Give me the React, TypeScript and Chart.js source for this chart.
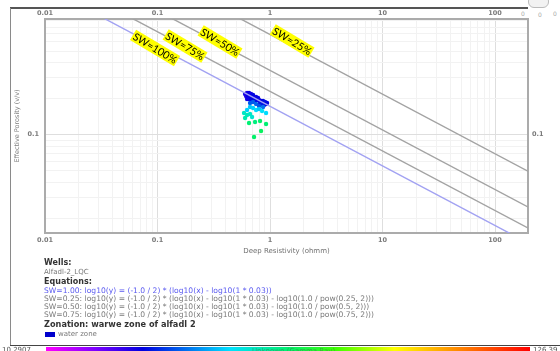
import React, { useEffect, useRef } from 'react';
import { Chart, registerables } from 'chart.js';
Chart.register(...registerables);

// ---- data ----
const resistivity = [
  0.600, 0.6245, 0.6505, 0.6777, 0.7061, 0.6119, 0.6374, 0.6640, 0.6918, 0.7206, 0.7508, 0.7822,
  0.7356, 0.7663, 0.7983, 0.8318, 0.8665, 0.9027, 0.9404, 0.8149, 0.8490, 0.8844, 0.9214, 0.6505,
  0.6777, 0.6245,
  0.7061, 0.7508, 0.7983, 0.8665, 0.6640,
  0.6640, 0.7061, 0.7508, 0.7983, 0.6245, 0.8490, 0.9214,
  0.5873, 0.6245, 0.6640, 0.6000, 0.6918,
  0.6505, 0.7356, 0.8149, 0.9214, 0.8318, 0.7206,
];
const porosity = [
  0.2197, 0.2240, 0.2240, 0.2197, 0.2155, 0.2113, 0.2113, 0.2073, 0.2073, 0.2033, 0.2073, 0.2033,
  0.1957, 0.1957, 0.1957, 0.1919, 0.1919, 0.1883, 0.1846, 0.1846, 0.1811, 0.1776, 0.1811, 0.1995,
  0.1957, 0.1995,
  0.1883, 0.1811, 0.1742, 0.1709, 0.1846,
  0.1709, 0.1677, 0.1613, 0.1644, 0.1613, 0.1582, 0.1522,
  0.1522, 0.1464, 0.1493, 0.1382, 0.1409,
  0.1255, 0.1279, 0.1304, 0.1231, 0.1075, 0.0957,
];
const gammaRay = [
  32, 31, 33, 32, 34, 31, 33, 32, 34, 33, 32, 34,
  33, 34, 32, 33, 34, 35, 34, 35, 36, 35, 34, 33,
  34, 32,
  42, 43, 41, 44, 42,
  52, 53, 54, 52, 53, 55, 54,
  60, 61, 60, 62, 59,
  68, 67, 69, 68, 70, 69,
];
const gammaMin = 10.2907;
const gammaMax = 126.39;

const xMin = 0.01;
const xMax = 196;
const yMin = 0.015;
const yMax = 0.935;

const lineLabels = ['SW=100%', 'SW=75%', 'SW=50%', 'SW=25%'];
const lineX = [0.01, 200];
const sw100Y = [1.7321, 0.012247];
const sw75Y = [2.3094, 0.016330];
const sw50Y = [3.4641, 0.024495];
const sw25Y = [6.9282, 0.048990];
const labelAnchorX = [0.095, 0.1755, 0.3594, 1.569];
const labelAnchorY = [0.534, 0.555, 0.600, 0.6114];

const wellName = 'Alfadl-2_LQC';
const equations = [
  'SW=1.00: log10(y) = (-1.0 / 2) * (log10(x) - log10(1 * 0.03))',
  'SW=0.25: log10(y) = (-1.0 / 2) * (log10(x) - log10(1 * 0.03) - log10(1.0 / pow(0.25, 2)))',
  'SW=0.50: log10(y) = (-1.0 / 2) * (log10(x) - log10(1 * 0.03) - log10(1.0 / pow(0.5, 2)))',
  'SW=0.75: log10(y) = (-1.0 / 2) * (log10(x) - log10(1 * 0.03) - log10(1.0 / pow(0.75, 2)))',
];
const zonation = 'Zonation: warwe zone of alfadl 2';
const zoneName = 'water zone';

// ---- colour map (Gamma Ray) ----
const cmapStops: [number, string][] = [
  [0, '#ff00ff'], [0.1, '#7f00ff'], [0.2, '#0000e0'], [0.38, '#00e0ff'],
  [0.5, '#00f070'], [0.6, '#40ff00'], [0.72, '#ffff00'], [0.86, '#ff8000'], [1, '#ff0000'],
];
function hexToRgb(h: string) {
  return [parseInt(h.slice(1, 3), 16), parseInt(h.slice(3, 5), 16), parseInt(h.slice(5, 7), 16)];
}
function cmap(g: number) {
  const f = Math.max(0, Math.min(1, (g - gammaMin) / (gammaMax - gammaMin)));
  for (let i = 1; i < cmapStops.length; i++) {
    const [f1, c1] = cmapStops[i];
    const [f0, c0] = cmapStops[i - 1];
    if (f <= f1) {
      const t = (f - f0) / (f1 - f0);
      const a = hexToRgb(c0), b = hexToRgb(c1);
      return `rgb(${a.map((v, k) => Math.round(v + (b[k] - v) * t)).join(',')})`;
    }
  }
  return cmapStops[cmapStops.length - 1][1];
}

const isDecade = (v: number) => Math.abs(Math.log10(v) - Math.round(Math.log10(v))) < 1e-6;
function gridValues(min: number, max: number) {
  const out: number[] = [];
  for (let e = -3; e <= 3; e++) {
    for (let m = 1; m <= 9; m++) {
      const v = parseFloat((m * Math.pow(10, e)).toPrecision(6));
      if (v >= min * 0.9999 && v <= max * 1.0001) out.push(v);
    }
  }
  return out;
}

const tickFont = { family: '"DejaVu Sans", sans-serif', size: 6.5, weight: 'bold' as const };
const tickColor = '#7a7a7a';
const borderCfg = { display: true, color: '#ababab', width: 2 };

function logAxis(position: string, min: number, max: number, padding: number, showGrid: boolean, extra: any = {}) {
  return {
    type: 'logarithmic',
    position,
    min,
    max,
    afterBuildTicks: (axis: any) => {
      axis.ticks = gridValues(axis.min, axis.max).map((v) => ({ value: v }));
    },
    ticks: {
      autoSkip: false,
      maxRotation: 0,
      padding,
      font: tickFont,
      color: tickColor,
      callback: (v: any) => (isDecade(Number(v)) ? String(Number(v)) : ''),
    },
    grid: showGrid
      ? {
          drawTicks: false,
          color: (c: any) => (c.tick && isDecade(c.tick.value) ? '#dedede' : '#f2f2f2'),
          lineWidth: 1,
        }
      : { display: false, drawTicks: false },
    border: borderCfg,
    ...extra,
  };
}

const swLabelPlugin = {
  id: 'swLabels',
  afterDatasetsDraw(chart: any) {
    const { ctx, scales } = chart;
    ctx.save();
    ctx.font = '10.5px Lato, "Open Sans", sans-serif';
    lineLabels.forEach((txt, i) => {
      const px = scales.x.getPixelForValue(labelAnchorX[i]);
      const py = scales.y.getPixelForValue(labelAnchorY[i]);
      ctx.save();
      ctx.translate(px, py);
      ctx.rotate((31 * Math.PI) / 180);
      const w = ctx.measureText(txt).width;
      ctx.fillStyle = '#ffff00';
      ctx.fillRect(-w / 2 - 1, -6, w + 2, 12);
      ctx.fillStyle = '#000';
      ctx.textAlign = 'center';
      ctx.textBaseline = 'middle';
      ctx.fillText(txt, 0, 0.5);
      ctx.restore();
    });
    ctx.restore();
  },
};

function linePts(ys: number[]) {
  return lineX.map((x, i) => ({ x, y: ys[i] }));
}

export default function App() {
  const ref = useRef<HTMLCanvasElement>(null);
  useEffect(() => {
    const lineDs = (ys: number[], color: string) => ({
      data: linePts(ys),
      showLine: true,
      pointRadius: 0,
      borderColor: color,
      borderWidth: 1.4,
      xAxisID: 'x',
      yAxisID: 'y',
    });
    const chart = new Chart(ref.current as HTMLCanvasElement, {
      type: 'scatter',
      data: {
        datasets: [
          lineDs(sw25Y, '#a3a3a3'),
          lineDs(sw50Y, '#a3a3a3'),
          lineDs(sw75Y, '#a3a3a3'),
          lineDs(sw100Y, '#a2a2f2'),
          {
            data: resistivity.map((x, i) => ({ x, y: porosity[i] })),
            pointRadius: 2.2,
            pointBorderWidth: 0,
            pointBackgroundColor: gammaRay.map((g) => cmap(g)),
            xAxisID: 'x',
            yAxisID: 'y',
          } as any,
        ],
      },
      options: {
        responsive: false,
        animation: false,
        devicePixelRatio: 1,
        events: [],
        layout: { padding: { left: 0, right: 0, top: 0, bottom: 94 } },
        plugins: { legend: { display: false }, tooltip: { enabled: false } },
        scales: {
          x: logAxis('bottom', xMin, xMax, 3.5, true, {
            afterFit: (s: any) => { s.height = 24; },
            title: {
              display: true,
              text: 'Deep Resistivity (ohmm)',
              color: '#707070',
              font: { family: '"DejaVu Sans", sans-serif', size: 7 },
              padding: { top: 0, bottom: 1.8 },
            },
          }),
          x2: logAxis('top', xMin, xMax, 2, false, {
            afterFit: (s: any) => { s.height = 19; },
          }),
          y: logAxis('left', yMin, yMax, 6, true, {
            afterFit: (s: any) => { s.width = 45; },
            title: {
              display: true,
              text: 'Effective Porosity (v/v)',
              color: '#808080',
              font: { family: '"DejaVu Sans", sans-serif', size: 6.5 },
              padding: { top: 13, bottom: 0 },
            },
          }),
          y2: logAxis('right', yMin, yMax, 4, false, {
            afterFit: (s: any) => { s.width = 32; },
          }),
        } as any,
      },
      plugins: [swLabelPlugin],
    } as any);
    return () => chart.destroy();
  }, []);

  const gradient = `linear-gradient(to right, ${cmapStops.map(([f, c]) => `${c} ${f * 100}%`).join(', ')})`;
  const abs = (left: number, top: number, extra: React.CSSProperties = {}): React.CSSProperties => ({
    position: 'absolute', left, top, whiteSpace: 'nowrap', lineHeight: 1, ...extra,
  });
  const head: React.CSSProperties = { fontWeight: 'bold', fontSize: 8, color: '#333' };
  const body: React.CSSProperties = { fontSize: 7, color: '#777' };
  const eqTops = [287, 295, 303, 311];

  return (
    <div style={{ position: 'fixed', left: 0, top: 0, width: 560, height: 351, overflow: 'hidden', background: '#fff', fontFamily: '"DejaVu Sans", sans-serif' }}>
      {/* frame */}
      <div style={{ position: 'absolute', left: 10, top: 7, width: 518, height: 2, background: '#555' }} />
      <div style={{ position: 'absolute', left: 10, top: 8, width: 1, height: 338, background: '#8a8a8a' }} />
      <div style={{ position: 'absolute', left: 10, top: 344.5, width: 550, height: 1.5, background: '#444' }} />
      {/* top-right widgets */}
      <div style={{ position: 'absolute', left: 528, top: -5, width: 19, height: 11, border: '1px solid #bbb', borderRadius: 6, background: '#f2f2f2' }} />
      <div style={abs(521, 11, { fontSize: 6, color: '#aaa' })}>0</div>
      <div style={abs(538, 12, { fontSize: 6, color: '#aaa' })}>0</div>
      <div style={abs(553, 11, { fontSize: 6, color: '#aaa' })}>0</div>

      <canvas ref={ref} width={560} height={351} style={{ position: 'absolute', left: 0, top: 0, width: 560, height: 351 }} />

      {/* text block */}
      <div style={abs(44, 259, head)}>Wells:</div>
      <div style={abs(44, 269, body)}>{wellName}</div>
      <div style={abs(44, 277.5, head)}>Equations:</div>
      {equations.map((eq, i) => (
        <div key={i} style={abs(44, eqTops[i], { ...body, fontSize: 7.6, color: i === 0 ? '#5a5af0' : '#7a7a7a' })}>{eq}</div>
      ))}
      <div style={abs(44, 320, { ...head, fontSize: 8.2 })}>{zonation}</div>
      <div style={abs(45, 331.5, { width: 10, height: 5.5, background: '#0000cc' })} />
      <div style={abs(58, 331, body)}>{zoneName}</div>

      {/* colour bar */}
      <div style={{ position: 'absolute', left: 46, top: 346.5, width: 484, height: 6, background: gradient }} />
      <div style={abs(2, 347, { fontSize: 7, color: '#555' })}>10.2907</div>
      <div style={abs(252, 347.5, { fontSize: 7, color: 'rgba(60,120,60,0.55)' })}>Unknown (Gamma Ray)</div>
      <div style={abs(533, 347, { fontSize: 7, color: '#555' })}>126.39</div>
    </div>
  );
}
